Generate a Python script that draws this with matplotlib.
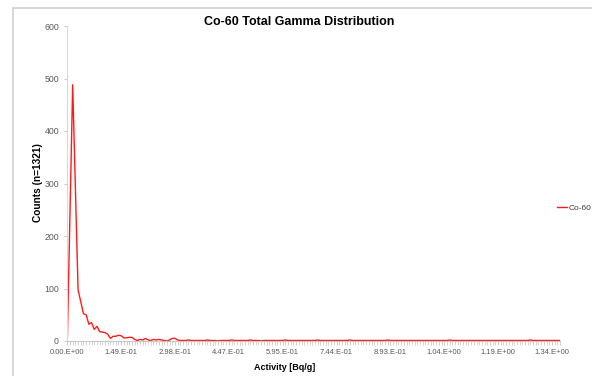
import numpy as np
import matplotlib
matplotlib.use("Agg")
import matplotlib.pyplot as plt
from matplotlib.patches import Rectangle
from matplotlib.ticker import FixedLocator, MultipleLocator

# counts per activity bin (Excel category axis, 20 bins per labelled step)
head_counts = [0, 245, 488, 290, 97, 75, 52, 50, 32, 35,
               22, 28, 18, 17, 16, 13, 5, 9, 9, 11,
               10, 6, 6, 7, 7, 3, 1, 3, 2, 5,
               2, 1, 3, 2, 3, 2, 1, 0, 2, 5,
               5, 2, 1, 1, 1, 2, 1, 1, 1, 1]
tail_counts = [1, 1, 2, 1, 1, 1, 0, 1, 1, 1,
               1, 2, 1, 1, 1, 1, 1, 1, 2, 1,
               1, 1, 0, 1, 1, 1, 1, 1, 1, 1,
               1, 2, 1, 1, 1, 1, 1, 1, 1, 1,
               1, 1, 1, 2, 1, 1, 1, 1, 1, 1,
               1, 1, 1, 1, 1, 2, 1, 1, 1, 1,
               1, 1, 1, 1, 1, 1, 1, 1, 1, 2,
               1, 1, 1, 1, 1, 1, 1, 1, 1, 1,
               1, 1, 1, 1, 1, 1, 1, 1, 1, 1,
               1, 1, 2, 1, 1, 1, 1, 1, 1, 1,
               1, 1, 1, 1, 1, 1, 1, 1, 1, 1,
               1, 1, 1, 1, 1, 1, 1, 1, 1, 1,
               1, 1, 2, 1, 1, 1, 1, 1, 1, 1,
               1, 1, 1, 1]
counts = head_counts + tail_counts

tick_labels = ["0.00.E+00", "1.49.E-01", "2.98.E-01", "4.47.E-01", "5.95.E-01",
               "7.44.E-01", "8.93.E-01", "1.04.E+00", "1.19.E+00", "1.34.E+00"]
bins_per_label = 20

W, H = 592, 376
fig = plt.figure(figsize=(W / 100, H / 100), dpi=100)
plt.rcParams['font.family'] = ['Liberation Sans', 'DejaVu Sans']

# chart-area border (only left/top visible in the crop)
fig.patches.append(Rectangle((13 / W, -0.1), 1.2, 1 - 8 / H + 0.1, transform=fig.transFigure,
                             fill=False, edgecolor='#d0d0d0', linewidth=1.2))

ax = fig.add_axes([67.3 / W, 1 - 341 / H, (560 - 67.3) / W, (341 - 26) / H])
x = np.arange(len(counts))
ax.plot(x, counts, color='#ff1a1a', linewidth=1.0, label='Co-60')

ax.set_xlim(0, len(counts) - 1)
ax.set_ylim(0, 600)
ax.yaxis.set_major_locator(MultipleLocator(100))
ax.xaxis.set_major_locator(FixedLocator([i * bins_per_label for i in range(len(tick_labels))]))
ax.xaxis.set_minor_locator(MultipleLocator(1))
ax.set_xticklabels(tick_labels)

for s in ['top', 'right']:
    ax.spines[s].set_visible(False)
ax.spines['left'].set_color('#d9d9d9')
ax.spines['bottom'].set_color('#c8c8c8')
ax.tick_params(axis='both', which='both', colors='#cccccc', labelcolor='#595959', labelsize=5.5)
ax.tick_params(axis='y', length=2, pad=4, labelsize=6.3)
ax.tick_params(axis='x', which='major', length=3, pad=3)
ax.tick_params(axis='x', which='minor', length=3)

fig.text(299 / W, 1 - 22 / H, 'Co-60 Total Gamma Distribution', ha='center', va='center',
         fontsize=9, fontweight='bold', color='#000000')
fig.text(285 / W, 1 - 367 / H, 'Activity [Bq/g]', ha='center', va='center',
         fontsize=6.5, fontweight='bold')
fig.text(38 / W, 1 - 183 / H, 'Counts (n=1321)', ha='center', va='center', rotation=90,
         fontsize=7.3, fontweight='bold')

ax.legend(loc='center left', bbox_to_anchor=(549 / W, 1 - 208 / H), bbox_transform=fig.transFigure,
          frameon=False, fontsize=6, handlelength=1.3, handletextpad=0.2, labelcolor='#404040')

fig.savefig('out.png', dpi=100)
